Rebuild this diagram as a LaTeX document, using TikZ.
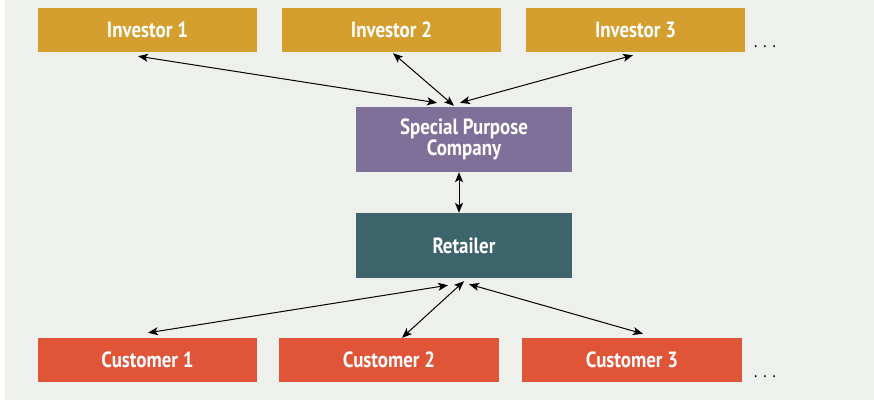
\documentclass[tikz,border=0pt]{standalone}
\usepackage{fontspec}
\setmainfont{PT Sans}[FakeStretch=0.86]
\usetikzlibrary{arrows.meta,calc}
\definecolor{bgpanel}{HTML}{EEF1EB}
\definecolor{investor}{HTML}{D49F2E}
\definecolor{spcco}{HTML}{7E7099}
\definecolor{retail}{HTML}{3E646B}
\definecolor{customer}{HTML}{E05438}
\tikzset{
  box/.style={draw=none, inner sep=0pt, minimum height=44pt, minimum width=219pt,
    text=white, align=center, font=\fontsize{22}{21.5}\selectfont\bfseries},
  invbox/.style={box, fill=investor},
  custbox/.style={box, fill=customer},
  midbox/.style={box, minimum width=216pt, minimum height=65pt},
  link/.style={line width=1pt, {Stealth[length=10pt,width=8pt,inset=2.5pt]}-{Stealth[length=10pt,width=8pt,inset=2.5pt]}},
  more/.style={inner sep=0pt, font=\fontsize{18}{18}\selectfont}
}
\begin{document}
\begin{tikzpicture}[x=1pt,y=-1pt]
  % canvas and panel
  \fill[white] (0,0) rectangle (874,400);
  \fill[bgpanel] (5,0) rectangle (874,400);
  \useasboundingbox (0,0) rectangle (874,400);

  % investors
  \node[invbox] (inv1) at (147.5,30) {Investor 1};
  \node[invbox] (inv2) at (391.5,30) {Investor 2};
  \node[invbox] (inv3) at (635.5,30) {Investor 3};
  \node[more] (invmore) at (765,47) {.\,\,.\,\,.};

  % special purpose company and retailer
  \node[midbox, fill=spcco] (spc) at (464,139.5) {Special Purpose\\Company};
  \node[midbox, fill=retail] (ret) at (464,245.5) {Retailer};

  % customers
  \node[custbox] (cust1) at (147.5,360) {Customer 1};
  \node[custbox, minimum width=220pt] (cust2) at (389,360) {Customer 2};
  \node[custbox, minimum width=220pt] (cust3) at (632,360) {Customer 3};
  \node[more] (custmore) at (765,377) {.\,\,.\,\,.};

  % investor links
  \draw[link] ($(inv1.south)+(-9.5,4)$) -- ($(spc.north)+(-27,-4)$);
  \draw[link] ($(inv2.south)+(1.5,1)$) -- ($(spc.north)+(-10,-1)$);
  \draw[link] ($(inv3.south)+(-2.5,3)$) -- ($(spc.north)+(-4,-4)$);

  % company to retailer
  \draw[link] ($(spc.south)+(-5,0)$) -- ($(ret.north)+(-5,0)$);

  % customer links
  \draw[link] ($(cust1.north)+(0.5,-5)$) -- ($(ret.south)+(-16,7)$);
  \draw[link] ($(cust2.north)+(13,0)$) -- ($(ret.south)+(0,3)$);
  \draw[link] ($(cust3.north)+(11,-4)$) -- ($(ret.south)+(5,6)$);
\end{tikzpicture}
\end{document}
